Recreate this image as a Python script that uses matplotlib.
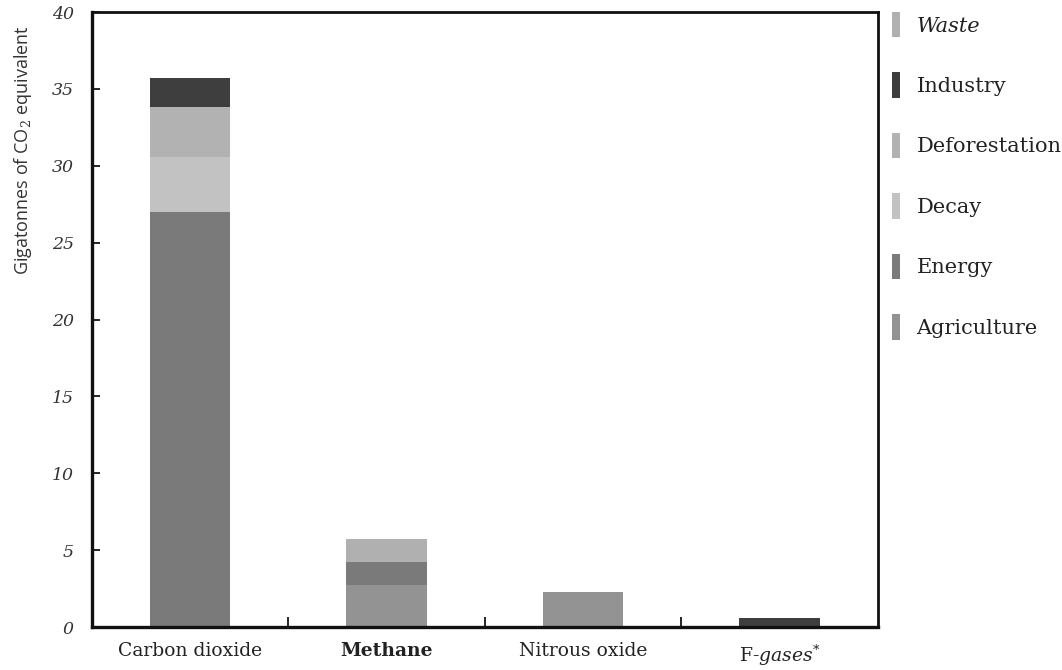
import matplotlib
matplotlib.use('Agg')
import matplotlib.pyplot as plt
from matplotlib.patches import Patch

# 数据
categories = ['Carbon dioxide', 'Methane', 'Nitrous oxide', 'F-gases*']
sectors = ['Agriculture', 'Energy', 'Decay', 'Deforestation', 'Industry', 'Waste']
agriculture = [0, 2.75, 2.27, 0]
energy = [27.0, 1.5, 0, 0]
decay = [3.6, 0, 0, 0]
deforestation = [3.2, 0, 0, 0]
industry = [1.9, 0, 0, 0.6]
waste = [0, 1.45, 0, 0]
y_ticks = [0, 5, 10, 15, 20, 25, 30, 35, 40]

series = [agriculture, energy, decay, deforestation, industry, waste]
colors = {
    'Agriculture': '#939393',
    'Energy': '#7a7a7a',
    'Decay': '#c2c2c2',
    'Deforestation': '#b2b2b2',
    'Industry': '#3e3e3e',
    'Waste': '#b0b0b0',
}
legend_order = ['Waste', 'Industry', 'Deforestation', 'Decay', 'Energy', 'Agriculture']

plt.rcParams['font.family'] = ['DejaVu Serif']
plt.rcParams['mathtext.fontset'] = 'custom'
plt.rcParams['mathtext.rm'] = 'DejaVu Serif'
plt.rcParams['mathtext.it'] = 'DejaVu Serif:italic'

fig = plt.figure(figsize=(10.62, 6.70), dpi=100)
ax = fig.add_axes([0.0866, 0.064, 0.740, 0.918])

x = list(range(len(categories)))
bottom = [0.0] * len(categories)
for name, vals in zip(sectors, series):
    ax.bar(x, vals, width=0.41, bottom=bottom, color=colors[name], linewidth=0)
    bottom = [b + v for b, v in zip(bottom, vals)]

ax.set_xlim(-0.5, len(categories) - 0.5)
ax.set_ylim(0, 40)
ax.set_yticks(y_ticks)
ax.set_yticklabels([str(t) for t in y_ticks], fontstyle='italic', fontsize=12.5, color='#333333')
ax.tick_params(axis='y', direction='in', length=6, width=1.2, pad=13, left=True)

# 类别分隔刻度
ax.set_xticks([i + 0.5 for i in x[:-1]], minor=False)
ax.set_xticklabels([])
ax.tick_params(axis='x', direction='in', length=7, width=1.2, bottom=True)
ax.set_xticks(x, minor=True)
xlabels = ['Carbon dioxide', 'Methane', 'Nitrous oxide', r'F-$\mathit{gases}$$^{*}$']
ax.set_xticklabels(xlabels, minor=True, fontsize=13.5, color='#222222')
ax.tick_params(axis='x', which='minor', length=0, pad=11)
for lbl in ax.get_xticklabels(minor=True):
    if lbl.get_text() == 'Methane':
        lbl.set_fontweight('bold')

for side in ['left', 'bottom']:
    ax.spines[side].set_linewidth(2.4)
for side in ['top', 'right']:
    ax.spines[side].set_linewidth(2.0)
for sp in ax.spines.values():
    sp.set_color('#111111')

ax.set_ylabel(r'Gigatonnes of CO$_2$ equivalent', fontsize=13, color='#333333',
              family='Open Sans', va='center')
ax.yaxis.set_label_coords(-0.088, 0.776)

handles = [Patch(facecolor=colors[n], edgecolor='none') for n in legend_order]
leg = ax.legend(handles, legend_order, loc='upper left', bbox_to_anchor=(1.018, 1.0),
                frameon=False, borderpad=0, borderaxespad=0,
                handlelength=0.38, handleheight=1.5, handletextpad=0.8,
                labelspacing=1.68, prop={'size': 15})
for t in leg.get_texts():
    t.set_color('#222222')
    if t.get_text() == 'Waste':
        t.set_fontstyle('italic')

fig.savefig('out.png', dpi=100)
